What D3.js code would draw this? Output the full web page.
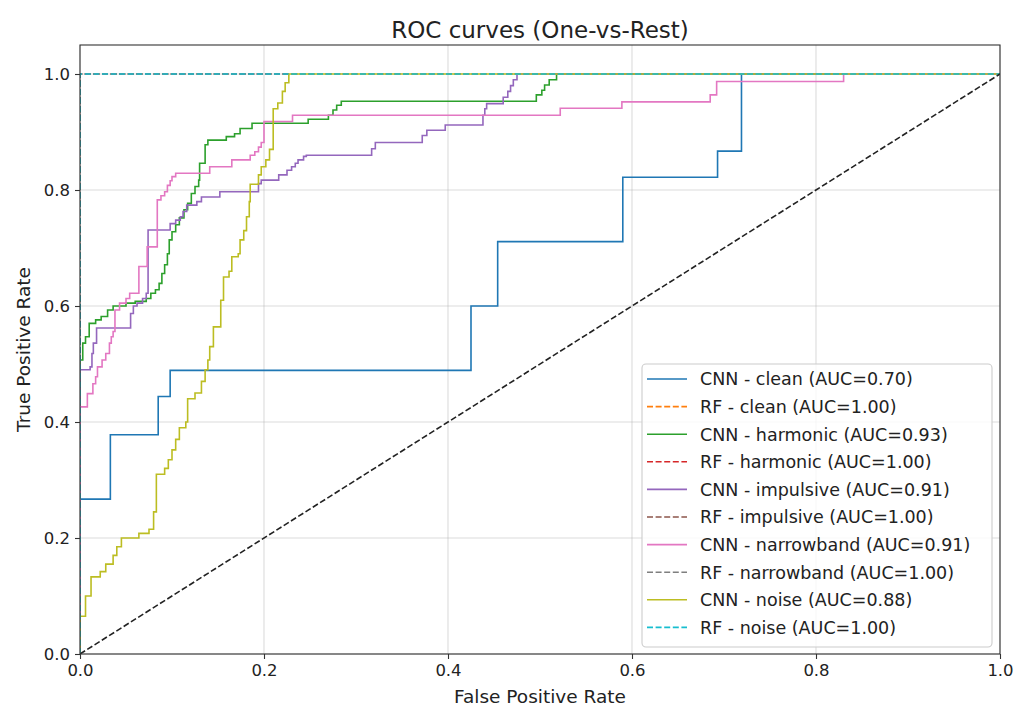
<!DOCTYPE html>
<html>
<head>
<meta charset="utf-8">
<script src="https://cdn.jsdelivr.net/npm/d3@7"></script>
<style>
  body { margin: 0; background: #fff; }
  text { font-family: "DejaVu Sans", sans-serif; fill: #222; }
</style>
</head>
<body>
<svg id="chart" width="1015" height="707"></svg>
<script>
// ---- data -------------------------------------------------------------
const classes = ["clean", "harmonic", "impulsive", "narrowband", "noise"];
const cnnAuc = [0.70, 0.93, 0.91, 0.91, 0.88];
const rfAuc = [1.00, 1.00, 1.00, 1.00, 1.00];
const xTicks = [0.0, 0.2, 0.4, 0.6, 0.8, 1.0];
const yTicks = [0.0, 0.2, 0.4, 0.6, 0.8, 1.0];

// CNN one-vs-rest ROC points (fpr, tpr reached at that fpr)
const cleanFpr = [0, 0, 0.033, 0.085, 0.098, 0.425, 0.454, 0.590, 0.693, 0.719, 1.0];
const cleanTpr = [0, 0.267, 0.378, 0.444, 0.489, 0.600, 0.711, 0.822, 0.867, 1.0, 1.0];

const harmonicFpr = [0, 0, 0.003, 0.006, 0.010, 0.017, 0.023, 0.030, 0.036, 0.050, 0.060, 0.072, 0.077,
  0.082, 0.086, 0.089, 0.092, 0.095, 0.097, 0.100, 0.104, 0.108, 0.113, 0.117, 0.121, 0.125, 0.129,
  0.130, 0.136, 0.139, 0.159, 0.168, 0.174, 0.187, 0.248, 0.270, 0.275, 0.279, 0.284, 0.496, 0.502,
  0.505, 0.510, 0.518, 1.0];
const harmonicTpr = [0, 0.507, 0.536, 0.547, 0.570, 0.576, 0.582, 0.593, 0.600, 0.605, 0.608, 0.613, 0.622,
  0.628, 0.639, 0.656, 0.671, 0.690, 0.714, 0.728, 0.740, 0.752, 0.766, 0.777, 0.794, 0.806, 0.817,
  0.846, 0.878, 0.886, 0.892, 0.897, 0.906, 0.915, 0.922, 0.929, 0.938, 0.946, 0.953, 0.964, 0.972,
  0.981, 0.990, 1.0, 1.0];

const impulsiveFpr = [0, 0, 0.011, 0.013, 0.0145, 0.018, 0.055, 0.058, 0.062, 0.068, 0.072, 0.074, 0.098,
  0.104, 0.109, 0.112, 0.116, 0.127, 0.132, 0.152, 0.194, 0.197, 0.216, 0.225, 0.230, 0.234, 0.237,
  0.243, 0.246, 0.317, 0.321, 0.372, 0.377, 0.397, 0.438, 0.440, 0.442, 0.460, 0.465, 0.468, 0.471,
  0.475, 1.0];
const impulsiveTpr = [0, 0.490, 0.495, 0.518, 0.536, 0.562, 0.587, 0.600, 0.605, 0.613, 0.622, 0.731, 0.742,
  0.748, 0.754, 0.763, 0.774, 0.780, 0.788, 0.797, 0.811, 0.817, 0.826, 0.834, 0.840, 0.846, 0.852,
  0.858, 0.860, 0.871, 0.882, 0.894, 0.903, 0.912, 0.929, 0.940, 0.949, 0.960, 0.970, 0.980, 0.990,
  1.0, 1.0];

const narrowbandFpr = [0, 0, 0.008, 0.014, 0.017, 0.019, 0.024, 0.028, 0.032, 0.034, 0.036, 0.038, 0.043,
  0.050, 0.054, 0.064, 0.073, 0.084, 0.088, 0.092, 0.095, 0.098, 0.100, 0.104, 0.141, 0.165, 0.185,
  0.190, 0.194, 0.197, 0.200, 0.231, 0.522, 0.589, 0.685, 0.692, 0.830, 1.0];
const narrowbandTpr = [0, 0.426, 0.449, 0.466, 0.478, 0.495, 0.507, 0.518, 0.536, 0.547, 0.556, 0.593, 0.605,
  0.613, 0.622, 0.668, 0.702, 0.783, 0.790, 0.797, 0.808, 0.816, 0.823, 0.829, 0.840, 0.852, 0.860,
  0.866, 0.874, 0.882, 0.918, 0.929, 0.941, 0.952, 0.964, 0.987, 1.0, 1.0];

const noiseFpr = [0, 0, 0.006, 0.012, 0.022, 0.028, 0.036, 0.040, 0.045, 0.064, 0.075, 0.080, 0.083,
  0.092, 0.096, 0.100, 0.104, 0.108, 0.115, 0.117, 0.125, 0.132, 0.136, 0.139, 0.141, 0.145, 0.153,
  0.156, 0.162, 0.165, 0.172, 0.174, 0.178, 0.181, 0.184, 0.185, 0.194, 0.197, 0.202, 0.206, 0.210,
  0.215, 0.220, 0.223, 0.227, 1.0];
const noiseTpr = [0, 0.065, 0.100, 0.133, 0.142, 0.155, 0.170, 0.185, 0.200, 0.208, 0.215, 0.245, 0.310,
  0.320, 0.335, 0.352, 0.370, 0.390, 0.400, 0.440, 0.450, 0.470, 0.490, 0.507, 0.530, 0.564, 0.610,
  0.650, 0.660, 0.685, 0.690, 0.714, 0.730, 0.754, 0.780, 0.810, 0.826, 0.840, 0.852, 0.870, 0.940,
  0.950, 0.970, 0.985, 1.0, 1.0];

// Random forest: perfect separation for every class
const rfFpr = [0, 0, 1];
const rfTpr = [0, 1, 1];

const cnnFpr = [cleanFpr, harmonicFpr, impulsiveFpr, narrowbandFpr, noiseFpr];
const cnnTpr = [cleanTpr, harmonicTpr, impulsiveTpr, narrowbandTpr, noiseTpr];

const palette = ["#1f77b4", "#ff7f0e", "#2ca02c", "#d62728", "#9467bd",
                 "#8c564b", "#e377c2", "#7f7f7f", "#bcbd22", "#17becf"];

// ---- layout -----------------------------------------------------------
const W = 1015, H = 707;
const plot = { left: 80, right: 1000, top: 45, bottom: 654 };
const lineW = 1.6;
const dash = "6,2.6";

const svg = d3.select("#chart");
svg.append("rect").attr("width", W).attr("height", H).attr("fill", "#fff");

const x = d3.scaleLinear().domain([0, 1]).range([plot.left, plot.right]);
const y = d3.scaleLinear().domain([0, 1.05]).range([plot.bottom, plot.top]);

svg.append("defs").append("clipPath").attr("id", "plotClip")
  .append("rect")
  .attr("x", plot.left).attr("y", plot.top)
  .attr("width", plot.right - plot.left).attr("height", plot.bottom - plot.top);

// grid
const grid = svg.append("g");
grid.selectAll("line.vx").data(xTicks).join("line")
  .attr("x1", d => x(d)).attr("x2", d => x(d))
  .attr("y1", plot.top).attr("y2", plot.bottom)
  .attr("stroke", "#b0b0b0").attr("stroke-opacity", 0.45).attr("stroke-width", 1.1);
grid.selectAll("line.hy").data(yTicks).join("line")
  .attr("y1", d => y(d)).attr("y2", d => y(d))
  .attr("x1", plot.left).attr("x2", plot.right)
  .attr("stroke", "#b0b0b0").attr("stroke-opacity", 0.45).attr("stroke-width", 1.1);

// curves
const series = [];
classes.forEach((c, i) => {
  series.push({ label: `CNN - ${c} (AUC=${cnnAuc[i].toFixed(2)})`, fpr: cnnFpr[i], tpr: cnnTpr[i],
                color: palette[2 * i], dashed: false });
  series.push({ label: `RF - ${c} (AUC=${rfAuc[i].toFixed(2)})`, fpr: rfFpr, tpr: rfTpr,
                color: palette[2 * i + 1], dashed: true });
});

const line = d3.line()
  .x(d => x(d[0])).y(d => y(d[1]))
  .curve(d3.curveStepAfter);

const curves = svg.append("g").attr("clip-path", "url(#plotClip)");
series.forEach(s => {
  curves.append("path")
    .datum(d3.zip(s.fpr, s.tpr))
    .attr("d", line)
    .attr("fill", "none")
    .attr("stroke", s.color)
    .attr("stroke-width", lineW)
    .attr("stroke-dasharray", s.dashed ? dash : null);
});

// chance diagonal
curves.append("line")
  .attr("x1", x(0)).attr("y1", y(0)).attr("x2", x(1)).attr("y2", y(1))
  .attr("stroke", "#222").attr("stroke-width", lineW).attr("stroke-dasharray", dash);

// frame
svg.append("rect")
  .attr("x", plot.left).attr("y", plot.top)
  .attr("width", plot.right - plot.left).attr("height", plot.bottom - plot.top)
  .attr("fill", "none").attr("stroke", "#333").attr("stroke-width", 1.1);

// axes
const fmt = d3.format(".1f");
const xAxis = svg.append("g").attr("transform", `translate(0,${plot.bottom})`)
  .call(d3.axisBottom(x).tickValues(xTicks).tickFormat(fmt).tickSize(5).tickPadding(5));
const yAxis = svg.append("g").attr("transform", `translate(${plot.left},0)`)
  .call(d3.axisLeft(y).tickValues(yTicks).tickFormat(fmt).tickSize(5).tickPadding(5));
[xAxis, yAxis].forEach(a => {
  a.select(".domain").remove();
  a.selectAll(".tick line").attr("stroke", "#333").attr("stroke-width", 1.1);
  a.selectAll(".tick text").attr("font-size", 16.5).attr("fill", "#222")
    .attr("font-family", "DejaVu Sans, sans-serif");
});

// titles
svg.append("text").attr("x", (plot.left + plot.right) / 2).attr("y", 38)
  .attr("text-anchor", "middle").attr("font-size", 23).text("ROC curves (One-vs-Rest)");
svg.append("text").attr("x", (plot.left + plot.right) / 2).attr("y", 703)
  .attr("text-anchor", "middle").attr("font-size", 18.5).text("False Positive Rate");
svg.append("text")
  .attr("transform", `translate(30,${(plot.top + plot.bottom) / 2}) rotate(-90)`)
  .attr("text-anchor", "middle").attr("font-size", 18.5).text("True Positive Rate");

// legend
const leg = { left: 642, top: 364, width: 350, height: 283, rowH: 27.6 };
const lg = svg.append("g");
lg.append("rect")
  .attr("x", leg.left).attr("y", leg.top).attr("width", leg.width).attr("height", leg.height)
  .attr("rx", 4).attr("fill", "#fff").attr("fill-opacity", 0.8)
  .attr("stroke", "#cccccc").attr("stroke-width", 1.1);
series.forEach((s, i) => {
  const cy = leg.top + 15 + i * leg.rowH;
  lg.append("line")
    .attr("x1", leg.left + 5).attr("x2", leg.left + 45).attr("y1", cy).attr("y2", cy)
    .attr("stroke", s.color).attr("stroke-width", lineW)
    .attr("stroke-dasharray", s.dashed ? dash : null);
  lg.append("text")
    .attr("x", leg.left + 58).attr("y", cy).attr("dy", "0.36em")
    .attr("font-size", 17.5).text(s.label);
});
</script>
</body>
</html>
